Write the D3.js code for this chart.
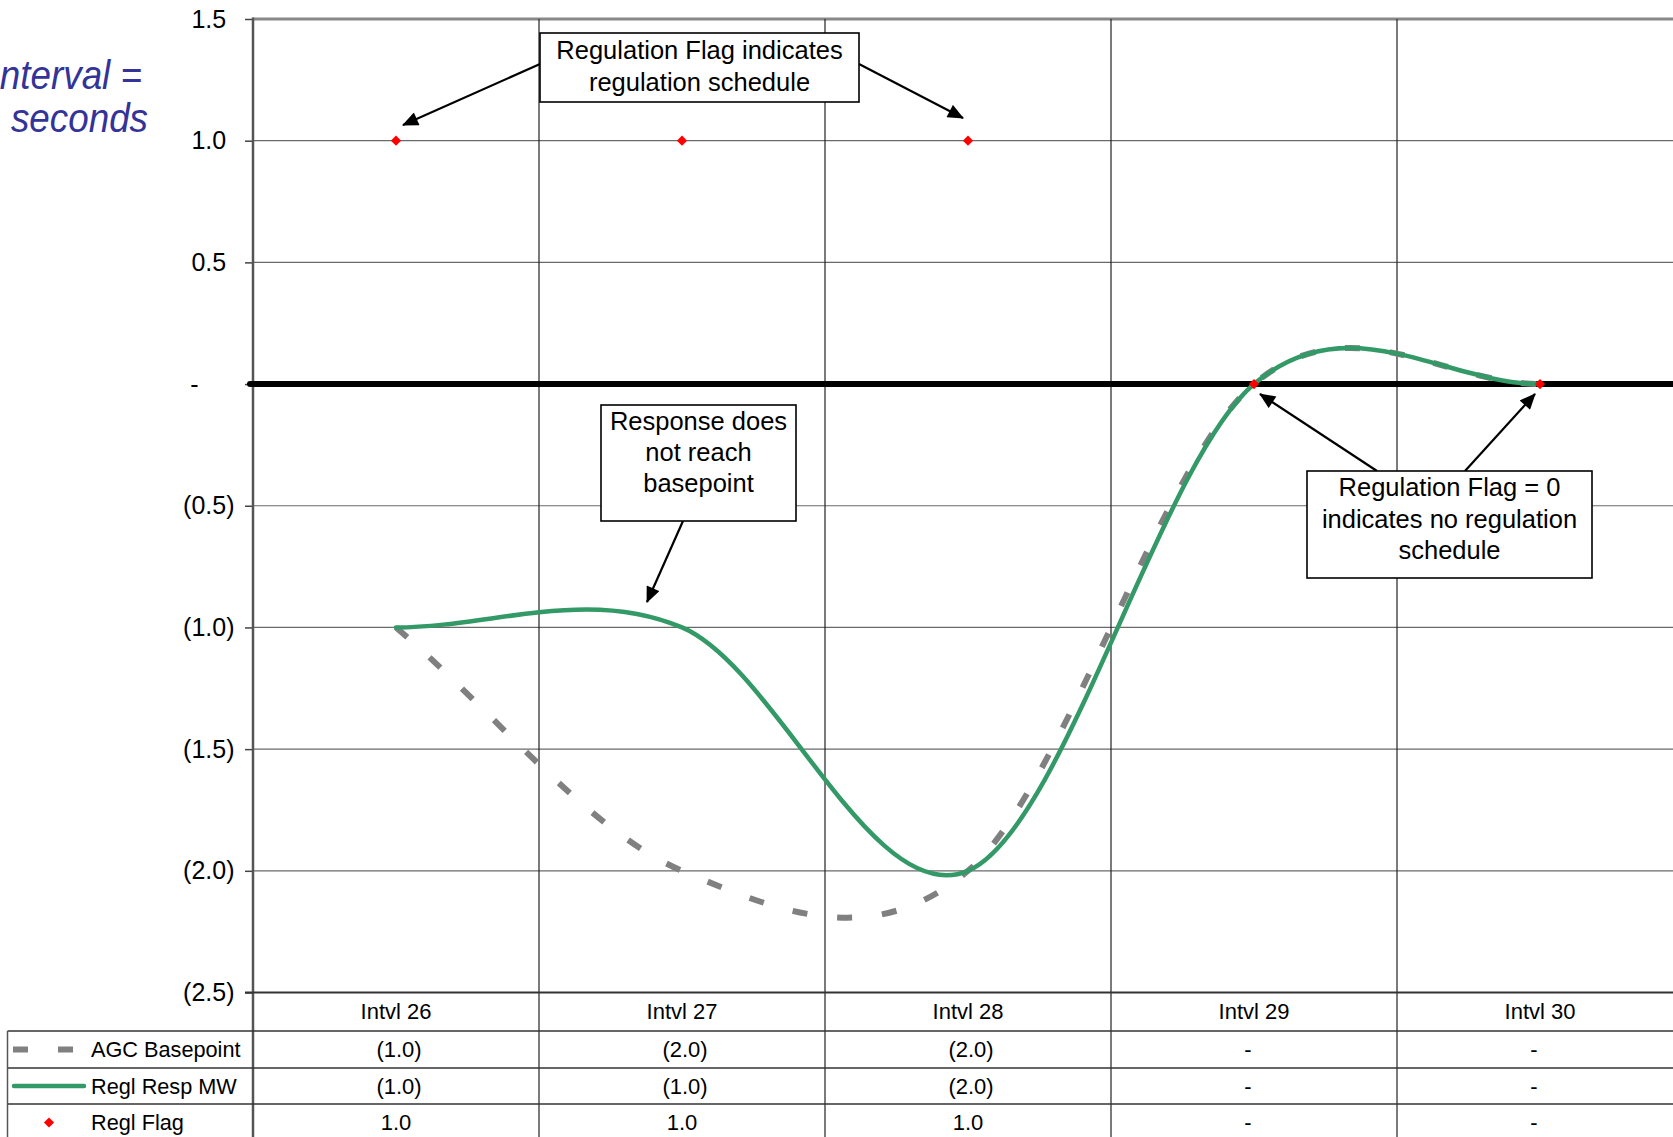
<!DOCTYPE html>
<html>
<head>
<meta charset="utf-8">
<script src="https://cdn.jsdelivr.net/npm/d3@7"></script>
<style>
  body { margin: 0; background: #fff; }
  svg { display: block; font-family: Arial, "Liberation Sans", sans-serif; }
</style>
</head>
<body>
<svg id="chart" width="1673" height="1137"></svg>
<script>
// ---- data ----
const categories   = ["Intvl 26", "Intvl 27", "Intvl 28", "Intvl 29", "Intvl 30"];
const agcBasepoint = [-1.0, -2.0, -2.0, 0, 0];
const reglRespMW   = [-1.0, -1.0, -2.0, 0, 0];
const reglFlag     = [1.0, 1.0, 1.0, 0, 0];
const yTicks       = [1.5, 1.0, 0.5, 0, -0.5, -1.0, -1.5, -2.0, -2.5];
const seriesNames  = ["AGC Basepoint", "Regl Resp MW", "Regl Flag"];
const sideNote     = ["Interval =", "4 seconds"];

// ---- layout ----
const W = 1673, H = 1137;
const plot = { left: 253, right: 1683, top: 19, bottom: 992.5 };
const rowEdges = [plot.bottom, 1031, 1068, 1104, 1141];
const tableLeft = 7.5;

const COLORS = { agc: "#808080", resp: "#339966", flag: "#ff0000", note: "#333399" };

const svg = d3.select("#chart");

const x = d3.scaleBand().domain(categories).range([plot.left, plot.right]).padding(0);
const cx = c => x(c) + x.bandwidth() / 2;
const y = d3.scaleLinear().domain([-2.5, 1.5]).range([plot.bottom, plot.top]);

// accounting-style number format: negatives in parentheses, zero as a dash
const fmt = v => v === 0 ? "-" : (v < 0 ? "(" + Math.abs(v).toFixed(1) + ")" : v.toFixed(1));

// spreadsheet-style smoothed line: Catmull-Rom tangents inside,
// end tangents taken from a reflected neighbour
function smoothPath(values) {
  const pts = values.map((v, i) => [cx(categories[i]), y(v)]);
  const n = pts.length;
  const reflect = (a, b) => [2 * a[0] - b[0], 2 * a[1] - b[1]];
  const ext = [reflect(pts[0], pts[1]), ...pts, reflect(pts[n - 1], pts[n - 2])];
  const p = d3.path();
  p.moveTo(pts[0][0], pts[0][1]);
  for (let i = 0; i < n - 1; i++) {
    const p0 = ext[i], p1 = ext[i + 1], p2 = ext[i + 2], p3 = ext[i + 3];
    p.bezierCurveTo(
      p1[0] + (p2[0] - p0[0]) / 6, p1[1] + (p2[1] - p0[1]) / 6,
      p2[0] - (p3[0] - p1[0]) / 6, p2[1] - (p3[1] - p1[1]) / 6,
      p2[0], p2[1]);
  }
  return p.toString();
}

// ---- gridlines ----
const grid = svg.append("g");
grid.selectAll("line.h").data(yTicks).join("line")
  .attr("x1", plot.left).attr("x2", W)
  .attr("y1", d => y(d)).attr("y2", d => y(d))
  .attr("stroke", "#6a6a6a").attr("stroke-width", 1.2);

// top border of the plot area
grid.append("line")
  .attr("x1", plot.left).attr("x2", W)
  .attr("y1", y(1.5)).attr("y2", y(1.5))
  .attr("stroke", "#888").attr("stroke-width", 3);

// vertical category dividers (run through the data table)
const dividers = categories.slice(1).map(c => x(c));
grid.selectAll("line.v").data(dividers).join("line")
  .attr("x1", d => d).attr("x2", d => d)
  .attr("y1", plot.top).attr("y2", H)
  .attr("stroke", "#222").attr("stroke-width", 1.2);

// ---- y axis ----
const yAxis = svg.append("g")
  .attr("transform", `translate(${plot.left},0)`)
  .call(d3.axisLeft(y).tickValues(yTicks).tickSize(8).tickPadding(10.5).tickFormat(fmt));
yAxis.select(".domain").remove();
yAxis.selectAll(".tick line").attr("stroke", "#444").attr("stroke-width", 1.5);
yAxis.selectAll(".tick text")
  .attr("fill", "#000")
  .style("font-size", "25px")
  .style("font-family", "Arial, 'Liberation Sans', sans-serif")
  .attr("dx", d => d === 0 ? -36 : (d > 0 ? -8.3 : 0));

svg.append("line")
  .attr("x1", plot.left).attr("x2", plot.left)
  .attr("y1", plot.top - 1.5).attr("y2", H)
  .attr("stroke", "#555").attr("stroke-width", 2.5);

// x axis line
svg.append("line")
  .attr("x1", plot.left - 8).attr("x2", W)
  .attr("y1", plot.bottom).attr("y2", plot.bottom)
  .attr("stroke", "#333").attr("stroke-width", 2);

// zero line
svg.append("line")
  .attr("x1", plot.left - 3).attr("x2", W)
  .attr("y1", y(0)).attr("y2", y(0))
  .attr("stroke", "#000").attr("stroke-width", 6)
  .attr("stroke-linecap", "round");

// ---- series ----
svg.append("path")
  .attr("d", smoothPath(agcBasepoint))
  .attr("fill", "none")
  .attr("stroke", COLORS.agc)
  .attr("stroke-width", 6)
  .attr("stroke-dasharray", "15,30");

svg.append("path")
  .attr("d", smoothPath(reglRespMW))
  .attr("fill", "none")
  .attr("stroke", COLORS.resp)
  .attr("stroke-width", 4.5)
  .attr("stroke-linecap", "round");

const diamond = d3.symbol().type(d3.symbolSquare).size(52);
svg.selectAll("path.flag").data(reglFlag).join("path")
  .attr("class", "flag")
  .attr("d", diamond)
  .attr("transform", (d, i) => `translate(${cx(categories[i])},${y(d)}) rotate(45)`)
  .attr("fill", COLORS.flag);

// ---- side note (runs off the left edge) ----
[[142, 88.5, sideNote[0]], [148, 132, sideNote[1]]].forEach(([xx, yy, t]) => {
  svg.append("text")
    .attr("transform", `translate(${xx},${yy}) scale(0.92,1)`)
    .attr("text-anchor", "end")
    .attr("fill", COLORS.note)
    .style("font-size", "40px")
    .style("font-style", "italic")
    .text(t);
});

// ---- annotations ----
svg.append("defs").append("marker")
  .attr("id", "arrow")
  .attr("markerUnits", "userSpaceOnUse")
  .attr("viewBox", "0 0 16 14")
  .attr("refX", 15).attr("refY", 7)
  .attr("markerWidth", 17).attr("markerHeight", 14)
  .attr("orient", "auto")
  .append("path").attr("d", "M0,0 L16,7 L0,14 Z").attr("fill", "#000");

const callouts = [
  { box: [540, 33, 319, 69], cxText: 699.5, lines: ["Regulation Flag indicates", "regulation schedule"], base: 59, step: 31.5,
    arrows: [[540, 64, 403, 125], [859, 64, 963, 118]] },
  { box: [601, 405, 195, 116], cxText: 698.5, lines: ["Response does", "not reach", "basepoint"], base: 430, step: 31,
    arrows: [[683, 521, 647, 602]] },
  { box: [1307, 471, 285, 107], cxText: 1449.5, lines: ["Regulation Flag = 0", "indicates no regulation", "schedule"], base: 496, step: 31.5,
    arrows: [[1377, 471, 1260, 394], [1465, 471, 1535, 394]] }
];

callouts.forEach(cl => {
  const g = svg.append("g");
  cl.arrows.forEach(a => {
    g.append("line")
      .attr("x1", a[0]).attr("y1", a[1]).attr("x2", a[2]).attr("y2", a[3])
      .attr("stroke", "#000").attr("stroke-width", 2.2)
      .attr("marker-end", "url(#arrow)");
  });
  g.append("rect")
    .attr("x", cl.box[0]).attr("y", cl.box[1])
    .attr("width", cl.box[2]).attr("height", cl.box[3])
    .attr("fill", "#fff").attr("stroke", "#000").attr("stroke-width", 1.6);
  g.selectAll("text").data(cl.lines).join("text")
    .attr("x", cl.cxText)
    .attr("y", (d, i) => cl.base + i * cl.step)
    .attr("text-anchor", "middle")
    .style("font-size", "25.5px")
    .text(d => d);
});

// ---- data table ----
const table = svg.append("g").style("font-size", "22px");

// header row: category labels
table.selectAll("text.cat").data(categories).join("text")
  .attr("x", d => cx(d))
  .attr("y", (rowEdges[0] + rowEdges[1]) / 2 + 7.5)
  .attr("text-anchor", "middle")
  .text(d => d);

// row borders
rowEdges.slice(1, 4).forEach(yy => {
  table.append("line")
    .attr("x1", tableLeft).attr("x2", W)
    .attr("y1", yy).attr("y2", yy)
    .attr("stroke", "#333").attr("stroke-width", 1.5);
});
table.append("line")
  .attr("x1", tableLeft).attr("x2", tableLeft)
  .attr("y1", rowEdges[1]).attr("y2", H)
  .attr("stroke", "#555").attr("stroke-width", 1.5);

const rows = [agcBasepoint, reglRespMW, reglFlag];
rows.forEach((vals, r) => {
  const mid = (rowEdges[r + 1] + rowEdges[r + 2]) / 2;
  table.selectAll(null).data(vals).join("text")
    .attr("x", (d, i) => cx(categories[i]) + (d === 0 ? -6 : (d < 0 ? 3 : 0)))
    .attr("y", mid + 7.5)
    .attr("text-anchor", "middle")
    .text(d => fmt(d));
  table.append("text")
    .attr("x", 91).attr("y", mid + 7.5)
    .style("font-size", "21.7px")
    .text(seriesNames[r]);
});

// legend keys inside the table
const keyMid = r => (rowEdges[r + 1] + rowEdges[r + 2]) / 2;
table.append("line")
  .attr("x1", 13).attr("x2", 73)
  .attr("y1", keyMid(0)).attr("y2", keyMid(0))
  .attr("stroke", COLORS.agc).attr("stroke-width", 6)
  .attr("stroke-dasharray", "15,30");
table.append("line")
  .attr("x1", 14).attr("x2", 84)
  .attr("y1", keyMid(1)).attr("y2", keyMid(1))
  .attr("stroke", COLORS.resp).attr("stroke-width", 4.5)
  .attr("stroke-linecap", "round");
table.append("path")
  .attr("d", diamond)
  .attr("transform", `translate(49,${keyMid(2)}) rotate(45)`)
  .attr("fill", COLORS.flag);
</script>
</body>
</html>
